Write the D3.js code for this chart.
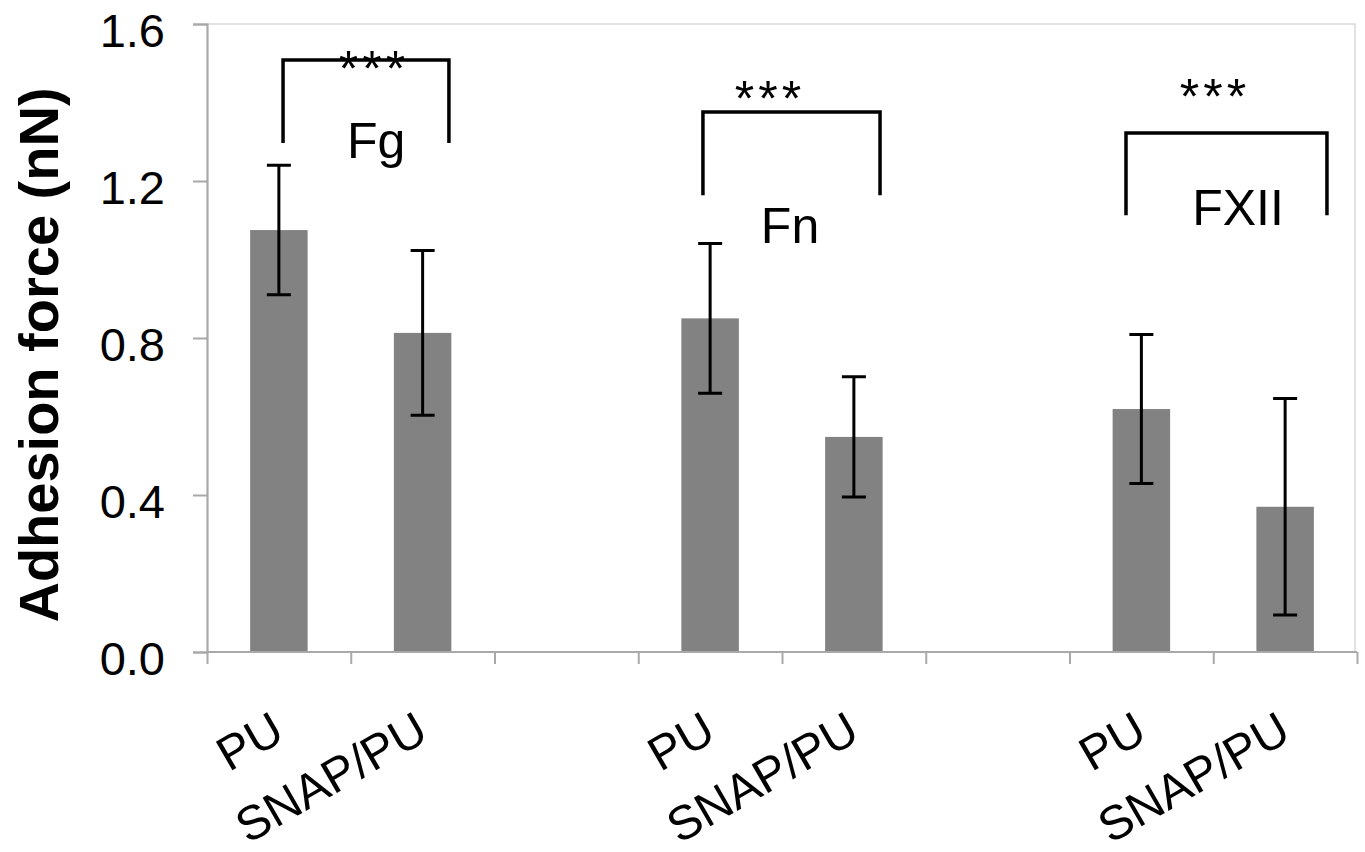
<!DOCTYPE html>
<html>
<head>
<meta charset="utf-8">
<script src="https://cdn.jsdelivr.net/npm/d3@7"></script>
<style>
  html, body { margin: 0; padding: 0; background: #fff; }
  svg { display: block; font-family: "Liberation Sans", Arial, sans-serif; }
</style>
</head>
<body>
<svg id="chart" width="1365" height="852"></svg>
<script>
// ---- data ----
const categories = ["PU", "SNAP/PU", "", "PU", "SNAP/PU", "", "PU", "SNAP/PU"];
const means  = [1.075, 0.813, null, 0.850, 0.548, null, 0.619, 0.370];
const errors = [0.165, 0.210, null, 0.191, 0.153, null, 0.190, 0.276];
const yTicks = [0.0, 0.4, 0.8, 1.2, 1.6];
const yTitle = "Adhesion force (nN)";

// significance brackets (x in category-slot units, y in data units)
const groups       = ["Fg", "Fn", "FXII"];
const bracketLeft  = [0.529, 3.450, 6.393];
const bracketRight = [1.683, 4.682, 7.791];
const bracketTop   = [1.508, 1.376, 1.322];
const bracketFoot  = [1.297, 1.164, 1.113];
const groupLabelX  = [1.177, 4.056, 7.172];
const groupLabelY  = [1.259, 1.042, 1.088];
const starsText    = ["***", "***", "***"];
const starsX       = [1.148, 3.903, 6.998];
const starsY       = [1.442, 1.366, 1.371];

// ---- layout ----
const svg = d3.select("#chart");
const mLeft = 207, mRight = 1357, mTop = 24, mBottom = 652;

const ids = categories.map((c, i) => i);
const x = d3.scaleBand().domain(ids).range([mLeft, mRight]).paddingInner(0.6).paddingOuter(0.3);
const slot = d3.scaleLinear().domain([0, categories.length]).range([mLeft, mRight]);
const y = d3.scaleLinear().domain([0, 1.6]).range([mBottom, mTop]);

// plot-area border (top and right)
svg.append("path")
  .attr("d", `M${mLeft},${y(1.6)}H${mRight - 2}V${mBottom}`)
  .attr("fill", "none").attr("stroke", "#d9d9d9").attr("stroke-width", 1.5);

// bars
svg.append("g").selectAll("rect")
  .data(ids.filter(i => means[i] != null))
  .join("rect")
  .attr("x", i => x(i))
  .attr("width", x.bandwidth())
  .attr("y", i => y(means[i]))
  .attr("height", i => y(0) - y(means[i]))
  .attr("fill", "#828282");

// y axis
const yAxis = d3.axisLeft(y).tickValues(yTicks).tickFormat(d3.format(".1f")).tickSize(14).tickPadding(28);
const gy = svg.append("g").attr("transform", `translate(${mLeft},0)`).call(yAxis);
gy.select(".domain").attr("stroke", "#a9a9a9").attr("stroke-width", 2.2);
gy.selectAll(".tick line").attr("stroke", "#a9a9a9").attr("stroke-width", 2);
gy.selectAll(".tick text")
  .attr("font-size", 47).attr("fill", "#000").attr("dy", "0.48em")
  .attr("font-family", "'Liberation Sans', Arial, sans-serif");

// x axis: ticks at slot boundaries
const xAxis = d3.axisBottom(slot).tickValues(d3.range(0, categories.length + 1)).tickSize(12).tickFormat("");
const gx = svg.append("g").attr("transform", `translate(0,${mBottom})`).call(xAxis);
gx.select(".domain").attr("stroke", "#a9a9a9").attr("stroke-width", 2.2).attr("d", `M${mLeft},0H${mRight}`);
gx.selectAll(".tick line").attr("stroke", "#a9a9a9").attr("stroke-width", 2);

// x category labels (rotated)
svg.append("g").selectAll("text")
  .data(ids.filter(i => categories[i] !== ""))
  .join("text")
  .attr("transform", i => `translate(${x(i) + x.bandwidth() / 2 + 8},${mBottom + 87}) rotate(-30)`)
  .attr("text-anchor", "end")
  .attr("font-size", 48)
  .attr("fill", "#000")
  .text(i => categories[i]);

// error bars
const eb = svg.append("g").attr("stroke", "#000").attr("stroke-width", 3).attr("fill", "none");
ids.filter(i => means[i] != null).forEach(i => {
  const cx = x(i) + x.bandwidth() / 2;
  const hi = y(means[i] + errors[i]), lo = y(means[i] - errors[i]);
  eb.append("path").attr("d", `M${cx},${hi}V${lo}M${cx - 12},${hi}H${cx + 12}M${cx - 12},${lo}H${cx + 12}`);
});

// brackets, stars and group labels
const ann = svg.append("g");
groups.forEach((g, k) => {
  ann.append("path")
    .attr("d", `M${slot(bracketLeft[k])},${y(bracketFoot[k])}V${y(bracketTop[k])}H${slot(bracketRight[k])}V${y(bracketFoot[k])}`)
    .attr("fill", "none").attr("stroke", "#000").attr("stroke-width", 3.5);
  ann.append("text")
    .attr("x", slot(starsX[k]) + 2).attr("y", y(starsY[k]))
    .attr("text-anchor", "middle").attr("font-size", 50).attr("letter-spacing", 4)
    .attr("fill", "#000").text(starsText[k]);
  ann.append("text")
    .attr("x", slot(groupLabelX[k])).attr("y", y(groupLabelY[k]))
    .attr("text-anchor", "middle").attr("font-size", 50)
    .attr("fill", "#000").text(g);
});

// y title
svg.append("text")
  .attr("transform", `translate(58,${(y(0) + y(1.6)) / 2 + 17}) rotate(-90)`)
  .attr("text-anchor", "middle")
  .attr("font-size", 56).attr("font-weight", "bold").attr("fill", "#000")
  .text(yTitle);
</script>
</body>
</html>
